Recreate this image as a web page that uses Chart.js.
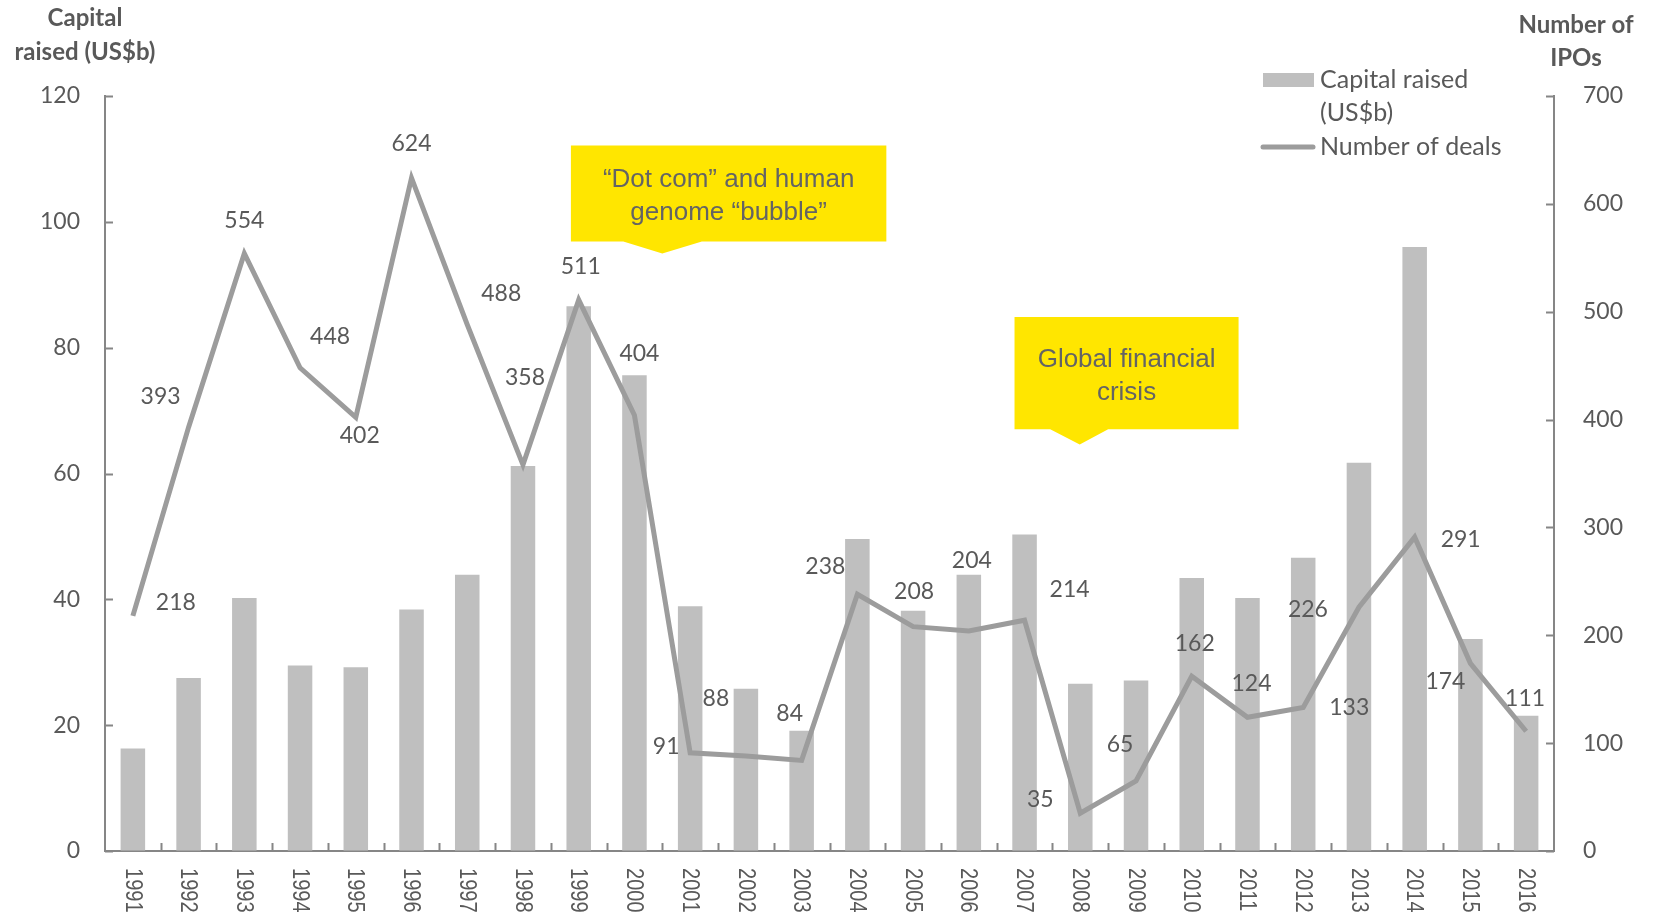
<!DOCTYPE html>
<html>
<head>
<meta charset="utf-8">
<title>Biotech IPOs</title>
<script src="https://cdn.jsdelivr.net/npm/chart.js@4/dist/chart.umd.min.js"></script>
<style>
    html, body { margin: 0; padding: 0; background: #fff; }
    #wrap { width: 1653px; height: 916px; position: relative; }
</style>
</head>
<body>
<div id="wrap"><canvas id="grafico"></canvas></div>
<script>
// Datos
const years = ['1991', '1992', '1993', '1994', '1995', '1996', '1997', '1998', '1999', '2000',
               '2001', '2002', '2003', '2004', '2005', '2006', '2007', '2008', '2009', '2010',
               '2011', '2012', '2013', '2014', '2015', '2016'];
const capitalRaised = [16.3, 27.5, 40.2, 29.5, 29.2, 38.4, 43.9, 61.2, 86.6, 75.6,
                       38.9, 25.8, 19.1, 49.6, 38.2, 43.9, 50.3, 26.6, 27.1, 43.4,
                       40.2, 46.6, 61.7, 96.0, 33.7, 21.5];
const numberOfDeals = [218, 393, 554, 448, 402, 624, 488, 358, 511, 404,
                       91, 88, 84, 238, 208, 204, 214, 35, 65, 162,
                       124, 133, 226, 291, 174, 111];
const capitalTicks = [0, 20, 40, 60, 80, 100, 120];
const dealTicks = [0, 100, 200, 300, 400, 500, 600, 700];

// Desplazamiento de cada etiqueta respecto a su punto (px)
const labelOffsets = [
    [43, -13], [-28, -31], [0, -33], [30, -31], [4, 18], [0, -34], [34, -31], [2, -87], [2, -33], [5, -62],
    [-24, -6], [-30, -58], [-12, -47], [-32, -28], [1, -35], [3, -70], [45, -31], [-40, -14], [-16, -36], [3, -33],
    [4, -34], [46, 0], [-51, 2], [46, 2], [-25, 18], [-1, -33]
];

// Cuadros de anotación (coordenadas en valores de escala: x = índice, y = eje derecho)
const notas = [
    { lines: ['\u201cDot com\u201d and human', 'genome \u201cbubble\u201d'],
      x0: 7.86, x1: 13.52, yTop: 654, yBot: 565, tipX: 9.5, tipY: 554, baseL: 8.80, baseR: 10.21 },
    { lines: ['Global financial', 'crisis'],
      x0: 15.82, x1: 19.84, yTop: 495, yBot: 391, tipX: 16.99, tipY: 377, baseL: 16.46, baseR: 17.5 }
];

const GRIS_TEXTO = '#595959';
const GRIS_EJE = '#868686';
const GRIS_BARRA = '#BFBFBF';
const GRIS_LINEA = '#9C9C9C';
const AMARILLO = '#FFE600';
const FUENTE = 'Lato, "Open Sans", sans-serif';

const extras = {
    id: 'extras',
    afterDatasetsDraw(chart) {
        const ctx = chart.ctx;
        const area = chart.chartArea;
        const xs = chart.scales.x, yl = chart.scales.y, yr = chart.scales.y2;

        ctx.save();

        // Marcas interiores de los ejes
        ctx.strokeStyle = GRIS_EJE;
        ctx.lineWidth = 2;
        ctx.beginPath();
        capitalTicks.forEach(v => {
            const y = Math.round(yl.getPixelForValue(v)) + 0.5;
            ctx.moveTo(area.left, y); ctx.lineTo(area.left + 8, y);
        });
        dealTicks.forEach(v => {
            const y = Math.round(yr.getPixelForValue(v)) + 0.5;
            ctx.moveTo(area.right, y); ctx.lineTo(area.right - 8, y);
        });
        for (let i = 1; i < years.length; i++) {
            const x = Math.round(xs.getPixelForValue(i - 0.5)) + 0.5;
            ctx.moveTo(x, area.bottom); ctx.lineTo(x, area.bottom - 8);
        }
        ctx.stroke();

        // Cuadros amarillos
        notas.forEach(n => {
            const l = xs.getPixelForValue(n.x0), r = xs.getPixelForValue(n.x1);
            const t = yr.getPixelForValue(n.yTop), b = yr.getPixelForValue(n.yBot);
            ctx.fillStyle = AMARILLO;
            ctx.beginPath();
            ctx.moveTo(l, t); ctx.lineTo(r, t); ctx.lineTo(r, b);
            ctx.lineTo(xs.getPixelForValue(n.baseR), b);
            ctx.lineTo(xs.getPixelForValue(n.tipX), yr.getPixelForValue(n.tipY));
            ctx.lineTo(xs.getPixelForValue(n.baseL), b);
            ctx.lineTo(l, b);
            ctx.closePath();
            ctx.fill();
            ctx.fillStyle = '#646464';
            ctx.font = '26px "Liberation Sans", Arial, sans-serif';
            ctx.textAlign = 'center';
            ctx.textBaseline = 'middle';
            const cx = (l + r) / 2, cy = (t + b) / 2 + 3, lh = 33;
            n.lines.forEach((s, k) => {
                ctx.fillText(s, cx, cy + (k - (n.lines.length - 1) / 2) * lh);
            });
        });

        // Etiquetas de la serie de operaciones
        const meta = chart.getDatasetMeta(1);
        ctx.fillStyle = GRIS_TEXTO;
        ctx.font = '23px ' + FUENTE;
        ctx.textAlign = 'center';
        ctx.textBaseline = 'middle';
        meta.data.forEach((pt, i) => {
            const [dx, dy] = labelOffsets[i];
            ctx.fillText(String(numberOfDeals[i]), pt.x + dx, pt.y + dy);
        });

        // Años en vertical (tipografía algo estrecha)
        ctx.font = '23px "Liberation Sans", Arial, sans-serif';
        ctx.textAlign = 'left';
        ctx.textBaseline = 'middle';
        years.forEach((yr_, i) => {
            ctx.save();
            ctx.translate(xs.getPixelForValue(i) - 1, area.bottom + 17);
            ctx.rotate(Math.PI / 2);
            ctx.scale(0.87, 1);
            ctx.fillText(yr_, 0, 0);
            ctx.restore();
        });

        // Títulos de los ejes
        ctx.font = 'bold 24px ' + FUENTE;
        ctx.textAlign = 'center';
        ctx.fillText('Capital', 85, 18);
        ctx.fillText('raised (US$b)', 85, 52);
        ctx.fillText('Number of', 1576, 25);
        ctx.fillText('IPOs', 1576, 58);

        // Leyenda
        const lx = area.right - 291;
        ctx.fillStyle = GRIS_BARRA;
        ctx.fillRect(lx, 73, 51, 14);
        ctx.strokeStyle = GRIS_LINEA;
        ctx.lineWidth = 5;
        ctx.lineCap = 'round';
        ctx.beginPath();
        ctx.moveTo(lx, 147); ctx.lineTo(lx + 50, 147);
        ctx.stroke();
        ctx.fillStyle = GRIS_TEXTO;
        ctx.font = '25px ' + FUENTE;
        ctx.textAlign = 'left';
        ctx.fillText('Capital raised', lx + 57, 80);
        ctx.fillText('(US$b)', lx + 57, 113);
        ctx.fillText(chart.data.datasets[1].label, lx + 57, 147);

        ctx.restore();
    }
};

const ejeY = (ticks, max, pos, pad, ancho) => ({
    position: pos,
    min: 0,
    max: max,
    afterBuildTicks: s => { s.ticks = ticks.map(v => ({ value: v })); },
    afterFit: s => { s.width = ancho; },
    grid: { drawOnChartArea: false, drawTicks: false },
    border: { color: GRIS_EJE, width: 2 },
    ticks: {
        color: GRIS_TEXTO,
        padding: pad,
        font: { family: FUENTE, size: 23 }
    }
});

new Chart(document.getElementById('grafico'), {
    data: {
        labels: years,
        datasets: [{
            type: 'bar',
            label: 'Capital raised (US$b)',
            data: capitalRaised,
            backgroundColor: GRIS_BARRA,
            categoryPercentage: 1,
            barPercentage: 0.44,
            yAxisID: 'y',
            order: 1
        }, {
            type: 'line',
            label: 'Number of deals',
            data: numberOfDeals,
            borderColor: GRIS_LINEA,
            borderWidth: 5,
            pointRadius: 0,
            tension: 0,
            yAxisID: 'y2',
            order: 0
        }]
    },
    options: {
        responsive: true,
        maintainAspectRatio: false,
        animation: false,
        layout: { padding: { left: 0, right: 0, top: 96, bottom: 65 } },
        plugins: {
            legend: { display: false },
            tooltip: { enabled: false }
        },
        scales: {
            x: {
                grid: { drawOnChartArea: false, drawTicks: false },
                border: { color: GRIS_EJE, width: 2 },
                ticks: { display: false }
            },
            y: ejeY(capitalTicks, 120, 'left', 25, 105),
            y2: ejeY(dealTicks, 700, 'right', 29, 99)
        }
    },
    plugins: [extras]
});
</script>
</body>
</html>
